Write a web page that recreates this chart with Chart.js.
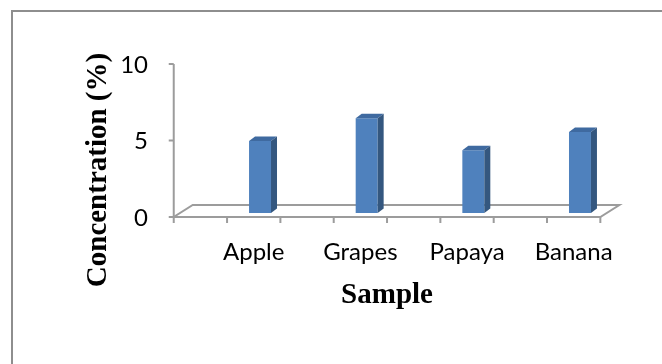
<!DOCTYPE html>
<html>
<head>
<meta charset="utf-8">
<script src="https://cdn.jsdelivr.net/npm/chart.js@4/dist/chart.umd.min.js"></script>
<style>
  html, body { margin: 0; padding: 0; background: #fff; overflow: hidden; }
  #wrap { position: relative; width: 662px; height: 364px; }
</style>
</head>
<body>
<div id="wrap"><canvas id="chart" width="662" height="364"></canvas></div>
<script>
// Concentration measured per fruit sample
const categories = ['Apple', 'Grapes', 'Papaya', 'Banana'];
const concentration = [4.7, 6.2, 4.1, 5.3];
const valueTicks = [0, 5, 10];
const xTitle = 'Sample';
const yTitle = 'Concentration (%)';

// Perspective of the pseudo-3D column style
const COLUMN_SHIFT = { dx: 6.3, dy: -4 };   // column plane relative to the front edge of the floor
const COLUMN_DEPTH = { dx: 6, dy: -4.5 };   // thickness of each column
const FLOOR_DEPTH = { dx: 19, dy: -12 };    // full depth of the floor

const LINE_GREY = '#9c9c9c';
const FRONT = '#4f81bd';
const SIDE = '#34577f';
const TOP = '#3f6aa0';

const column3d = {
  id: 'column3d',
  beforeDatasetsDraw(chart) {
    const { ctx } = chart;
    const xs = chart.scales.x, ys = chart.scales.y;
    const w = xs.getPixelForValue(1) - xs.getPixelForValue(0);
    const frontLeft = xs.getPixelForValue(0) - COLUMN_SHIFT.dx - 0.75 * w;
    const frontRight = xs.getPixelForValue(categories.length - 1) - COLUMN_SHIFT.dx + 0.25 * w;
    const frontY = ys.getPixelForValue(0) - COLUMN_SHIFT.dy;

    ctx.save();
    // outer frame
    ctx.fillStyle = '#8e8e8e';
    ctx.fillRect(11, 10, 2, chart.height);
    ctx.fillRect(11, 10, chart.width, 2);

    ctx.strokeStyle = LINE_GREY;
    ctx.lineWidth = 2;
    // floor
    ctx.beginPath();
    ctx.moveTo(frontLeft, frontY);
    ctx.lineTo(frontRight, frontY);
    ctx.lineTo(frontRight + FLOOR_DEPTH.dx, frontY + FLOOR_DEPTH.dy);
    ctx.lineTo(frontLeft + FLOOR_DEPTH.dx, frontY + FLOOR_DEPTH.dy);
    ctx.closePath();
    ctx.stroke();

    // value axis line and its ticks
    const topY = ys.getPixelForValue(ys.max) - COLUMN_SHIFT.dy;
    ctx.beginPath();
    ctx.moveTo(frontLeft, topY);
    ctx.lineTo(frontLeft, frontY);
    valueTicks.forEach(v => {
      const y = ys.getPixelForValue(v) - COLUMN_SHIFT.dy;
      ctx.moveTo(frontLeft - 5, y);
      ctx.lineTo(frontLeft, y);
    });
    // category ticks along the floor's front edge
    const steps = categories.length * 2;
    for (let i = 0; i <= steps; i++) {
      const x = frontLeft + (frontRight - frontLeft) * i / steps;
      ctx.moveTo(x, frontY);
      ctx.lineTo(x, frontY + 6);
    }
    ctx.stroke();
    ctx.restore();
  },
  afterDatasetsDraw(chart) {
    const { ctx } = chart;
    const meta = chart.getDatasetMeta(0);
    ctx.save();
    meta.data.forEach(bar => {
      const p = bar.getProps(['x', 'y', 'base', 'width'], true);
      const l = p.x - p.width / 2, r = p.x + p.width / 2;
      const t = p.y, b = p.base;
      // top face
      ctx.fillStyle = TOP;
      ctx.beginPath();
      ctx.moveTo(l, t);
      ctx.lineTo(r, t);
      ctx.lineTo(r + COLUMN_DEPTH.dx, t + COLUMN_DEPTH.dy);
      ctx.lineTo(l + COLUMN_DEPTH.dx, t + COLUMN_DEPTH.dy);
      ctx.closePath();
      ctx.fill();
      // right side face
      ctx.fillStyle = SIDE;
      ctx.beginPath();
      ctx.moveTo(r, t);
      ctx.lineTo(r + COLUMN_DEPTH.dx, t + COLUMN_DEPTH.dy);
      ctx.lineTo(r + COLUMN_DEPTH.dx, b + COLUMN_DEPTH.dy);
      ctx.lineTo(r, b);
      ctx.closePath();
      ctx.fill();
    });
    ctx.restore();
  },
  afterDraw(chart) {
    const { ctx } = chart;
    const xs = chart.scales.x;
    const w = xs.getPixelForValue(1) - xs.getPixelForValue(0);
    const frontLeft = xs.getPixelForValue(0) - COLUMN_SHIFT.dx - 0.75 * w;
    const frontRight = xs.getPixelForValue(categories.length - 1) - COLUMN_SHIFT.dx + 0.25 * w;
    ctx.save();
    ctx.fillStyle = '#000';
    ctx.font = 'bold 29px "Liberation Serif"';
    ctx.textAlign = 'center';
    ctx.textBaseline = 'alphabetic';
    ctx.fillText(xTitle, (frontLeft + frontRight) / 2, 303);
    ctx.translate(106, 170);
    ctx.rotate(-Math.PI / 2);
    ctx.fillText(yTitle, 0, 0);
    ctx.restore();
  }
};

new Chart(document.getElementById('chart'), {
  type: 'bar',
  data: {
    labels: categories,
    datasets: [{
      data: concentration,
      backgroundColor: FRONT,
      borderWidth: 0,
      categoryPercentage: 1,
      barPercentage: 0.206
    }]
  },
  options: {
    responsive: false,
    devicePixelRatio: 1,
    animation: false,
    layout: { padding: { top: 60, right: 28.7, bottom: 0, left: 0 } },
    plugins: { legend: { display: false }, tooltip: { enabled: false } },
    scales: {
      x: {
        grid: { display: false, drawTicks: false },
        border: { display: false },
        ticks: {
          color: '#000',
          font: { family: 'Lato', size: 24 },
          padding: 25,
          labelOffset: -6.3,
          maxRotation: 0
        },
        afterFit(scale) { scale.height = 151; }
      },
      y: {
        min: 0,
        max: 10,
        grid: { display: false, drawTicks: false },
        border: { display: false },
        afterBuildTicks(scale) { scale.ticks = valueTicks.map(v => ({ value: v })); },
        ticks: {
          color: '#000',
          font: { family: 'Lato', size: 24 },
          padding: 58.7,
          labelOffset: 5
        },
        afterFit(scale) {
          scale.width = 206.7;
          // the wide label gap should not push the plot area down
          scale.paddingTop = 15;
          scale.paddingBottom = 15;
        }
      }
    }
  },
  plugins: [column3d]
});
</script>
</body>
</html>
